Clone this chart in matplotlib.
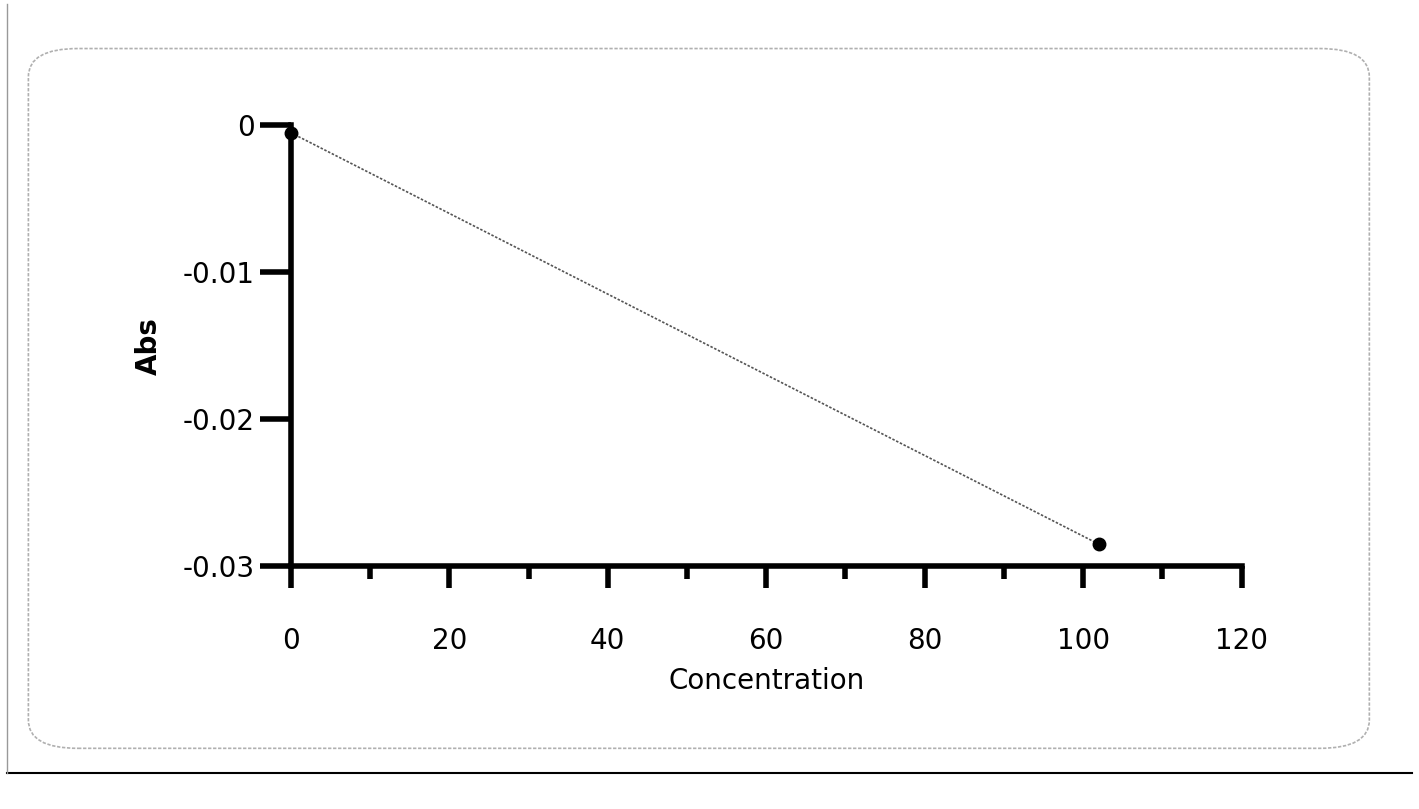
import matplotlib.pyplot as plt
from matplotlib.patches import FancyBboxPatch
from matplotlib.ticker import MultipleLocator

concentration = [0, 102]
absorbance = [-0.0005, -0.0285]

x_ticks = [0, 20, 40, 60, 80, 100, 120]
y_ticks = [0, -0.01, -0.02, -0.03]
y_tick_labels = ["0", "-0.01", "-0.02", "-0.03"]

fig = plt.figure(figsize=(14.19, 8.09), dpi=100)

# scanned-page frame around the graph
frame = FancyBboxPatch((0.02, 0.075), 0.945, 0.865,
                       boxstyle="round,pad=0,rounding_size=0.035",
                       transform=fig.transFigure, fill=False,
                       edgecolor="#b0b0b0", linewidth=1.2, linestyle=(0, (2, 1)))
fig.patches.append(frame)
fig.add_artist(plt.Line2D([0.005, 0.995], [0.045, 0.045], color="black", linewidth=1.5,
                          transform=fig.transFigure))
fig.add_artist(plt.Line2D([0.005, 0.005], [0.045, 0.995], color="#999999", linewidth=1,
                          transform=fig.transFigure))

ax = fig.add_axes([0.205, 0.3, 0.67, 0.545])
ax.plot(concentration, absorbance, color="#555555", linewidth=1.2, linestyle=(0, (1.5, 1)))
ax.plot(concentration, absorbance, "o", color="black", markersize=9, zorder=5,
        clip_on=False)

ax.set_xlim(0, 120)
ax.set_ylim(-0.03, 0)
ax.set_xticks(x_ticks)
ax.xaxis.set_minor_locator(MultipleLocator(10))
ax.set_yticks(y_ticks)
ax.set_yticklabels(y_tick_labels)

for side in ["top", "right"]:
    ax.spines[side].set_visible(False)
for side in ["left", "bottom"]:
    ax.spines[side].set_linewidth(4)

ax.tick_params(axis="x", which="major", direction="out", length=16, width=4,
               labelsize=20, pad=28)
ax.tick_params(axis="x", which="minor", direction="out", length=9, width=4)
ax.tick_params(axis="y", which="major", direction="out", length=22, width=4,
               labelsize=20, pad=4)

ax.set_xlabel("Concentration", fontsize=20, labelpad=8)
ax.set_ylabel("Abs", fontsize=20, fontweight="bold", labelpad=14)

fig.savefig("out.png", dpi=100, facecolor="white")
